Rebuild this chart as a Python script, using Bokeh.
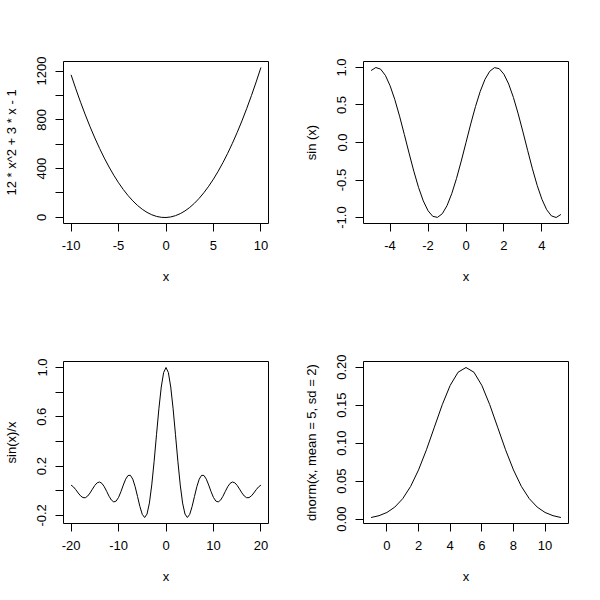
from bokeh.plotting import figure
from bokeh.layouts import gridplot
from bokeh.models import Range1d, FixedTicker
from bokeh.embed import file_html
from bokeh.resources import INLINE

# ---- data ----
para_x = [-10, -9.5, -9, -8.5, -8, -7.5, -7, -6.5, -6, -5.5, -5, -4.5, -4, -3.5, -3, -2.5, -2, -1.5, -1, -0.5,
          0, 0.5, 1, 1.5, 2, 2.5, 3, 3.5, 4, 4.5, 5, 5.5, 6, 6.5, 7, 7.5, 8, 8.5, 9, 9.5, 10]
para_y = [1169, 1053.5, 944, 840.5, 743, 651.5, 566, 486.5, 413, 345.5, 284, 228.5, 179, 135.5, 98, 66.5, 41, 21.5, 8, 0.5,
          -1, 3.5, 14, 30.5, 53, 81.5, 116, 156.5, 203, 255.5, 314, 378.5, 449, 525.5, 608, 696.5, 791, 891.5, 998, 1110.5, 1229]

sin_x = [-5, -4.75, -4.5, -4.25, -4, -3.75, -3.5, -3.25, -3, -2.75, -2.5, -2.25, -2, -1.75, -1.5, -1.25, -1, -0.75, -0.5, -0.25,
         0, 0.25, 0.5, 0.75, 1, 1.25, 1.5, 1.75, 2, 2.25, 2.5, 2.75, 3, 3.25, 3.5, 3.75, 4, 4.25, 4.5, 4.75, 5]
sin_y = [0.9589, 0.9993, 0.9775, 0.8950, 0.7568, 0.5716, 0.3508, 0.1082, -0.1411, -0.3817, -0.5985, -0.7781, -0.9093,
         -0.9840, -0.9975, -0.9490, -0.8415, -0.6816, -0.4794, -0.2474, 0.0, 0.2474, 0.4794, 0.6816, 0.8415, 0.9490,
         0.9975, 0.9840, 0.9093, 0.7781, 0.5985, 0.3817, 0.1411, -0.1082, -0.3508, -0.5716, -0.7568, -0.8950, -0.9775,
         -0.9993, -0.9589]

sinc_x = [-20, -19.5, -19, -18.5, -18, -17.5, -17, -16.5, -16, -15.5, -15, -14.5, -14, -13.5, -13, -12.5, -12, -11.5,
          -11, -10.5, -10, -9.5, -9, -8.5, -8, -7.5, -7, -6.5, -6, -5.5, -5, -4.5, -4, -3.5, -3, -2.5, -2, -1.5, -1, -0.5,
          0, 0.5, 1, 1.5, 2, 2.5, 3, 3.5, 4, 4.5, 5, 5.5, 6, 6.5, 7, 7.5, 8, 8.5, 9, 9.5, 10, 10.5, 11, 11.5, 12, 12.5,
          13, 13.5, 14, 14.5, 15, 15.5, 16, 16.5, 17, 17.5, 18, 18.5, 19, 19.5, 20]
sinc_y = [0.0456, 0.0311, 0.0079, -0.0185, -0.0417, -0.0557, -0.0566, -0.0431, -0.0180, 0.0133, 0.0434, 0.0645, 0.0708,
          0.0595, 0.0323, -0.0053, -0.0447, -0.0761, -0.0909, -0.0838, -0.0544, -0.0079, 0.0458, 0.0939, 0.1237, 0.1251,
          0.0939, 0.0331, -0.0466, -0.1283, -0.1918, -0.2172, -0.1892, -0.1002, 0.0470, 0.2394, 0.4546, 0.6650, 0.8415,
          0.9589, 1.0,
          0.9589, 0.8415, 0.6650, 0.4546, 0.2394, 0.0470, -0.1002, -0.1892, -0.2172, -0.1918, -0.1283, -0.0466, 0.0331,
          0.0939, 0.1251, 0.1237, 0.0939, 0.0458, -0.0079, -0.0544, -0.0838, -0.0909, -0.0761, -0.0447, -0.0053, 0.0323,
          0.0595, 0.0708, 0.0645, 0.0434, 0.0133, -0.0180, -0.0431, -0.0566, -0.0557, -0.0417, -0.0185, 0.0079, 0.0311,
          0.0456]

dnorm_x = [-1, -0.5, 0, 0.5, 1, 1.5, 2, 2.5, 3, 3.5, 4, 4.5, 5, 5.5, 6, 6.5, 7, 7.5, 8, 8.5, 9, 9.5, 10, 10.5, 11]
dnorm_y = [0.0022, 0.0046, 0.0088, 0.0159, 0.0270, 0.0431, 0.0648, 0.0913, 0.1210, 0.1506, 0.1760, 0.1933, 0.1995,
           0.1933, 0.1760, 0.1506, 0.1210, 0.0913, 0.0648, 0.0431, 0.0270, 0.0159, 0.0088, 0.0046, 0.0022]

# tick values and labels ("" = tick without label, as in the picture)
para_xticks = [-10, -5, 0, 5, 10]
para_xlabels = ["-10", "-5", "0", "5", "10"]
para_yticks = [0, 200, 400, 600, 800, 1000, 1200]
para_ylabels = ["0", "", "400", "", "800", "", "1200"]

sin_xticks = [-4, -2, 0, 2, 4]
sin_xlabels = ["-4", "-2", "0", "2", "4"]
sin_yticks = [-1.0, -0.5, 0.0, 0.5, 1.0]
sin_ylabels = ["-1.0", "-0.5", "0.0", "0.5", "1.0"]

sinc_xticks = [-20, -10, 0, 10, 20]
sinc_xlabels = ["-20", "-10", "0", "10", "20"]
sinc_yticks = [-0.2, 0.0, 0.2, 0.4, 0.6, 0.8, 1.0]
sinc_ylabels = ["-0.2", "", "0.2", "", "0.6", "", "1.0"]

dnorm_xticks = [0, 2, 4, 6, 8, 10]
dnorm_xlabels = ["0", "2", "4", "6", "8", "10"]
dnorm_yticks = [0.0, 0.05, 0.10, 0.15, 0.20]
dnorm_ylabels = ["0.00", "0.05", "0.10", "0.15", "0.20"]

FONT = "Liberation Sans"
FS = "13px"


def padded(vals):
    lo, hi = min(vals), max(vals)
    d = (hi - lo) * 0.04
    return Range1d(lo - d, hi + d)


def panel(xs, ys, xt, xl, yt, yl, ylab):
    p = figure(width=300, height=300, output_backend="svg", toolbar_location=None,
               x_range=padded(xs), y_range=padded(ys),
               min_border_left=62, min_border_right=32, min_border_top=61, min_border_bottom=77)
    p.line(xs, ys, line_color="black", line_width=1)
    p.xgrid.visible = False
    p.ygrid.visible = False
    p.outline_line_color = "black"
    p.outline_line_width = 1
    p.background_fill_color = "white"
    p.border_fill_color = "white"
    p.xaxis.ticker = FixedTicker(ticks=xt)
    p.yaxis.ticker = FixedTicker(ticks=yt)
    p.xaxis.major_label_overrides = {v: s for v, s in zip(xt, xl)}
    p.yaxis.major_label_overrides = {v: s for v, s in zip(yt, yl)}
    p.xaxis.axis_label = "x"
    p.yaxis.axis_label = ylab
    p.yaxis.major_label_orientation = "vertical"
    for ax in (p.xaxis[0], p.yaxis[0]):
        ax.axis_line_color = None
        ax.major_tick_in = 0
        ax.major_tick_out = 8
        ax.major_tick_line_color = "black"
        ax.minor_tick_line_color = None
        ax.major_label_text_font = FONT
        ax.major_label_text_font_size = FS
        ax.major_label_text_color = "black"
        ax.axis_label_text_font = FONT
        ax.axis_label_text_font_size = FS
        ax.axis_label_text_font_style = "normal"
        ax.axis_label_text_color = "black"
    p.xaxis.major_label_standoff = 9
    p.xaxis.axis_label_standoff = 16
    p.yaxis.major_label_standoff = 9
    p.yaxis.axis_label_standoff = 16
    return p


p1 = panel(para_x, para_y, para_xticks, para_xlabels, para_yticks, para_ylabels, "12 * x^2 + 3 * x - 1")
p2 = panel(sin_x, sin_y, sin_xticks, sin_xlabels, sin_yticks, sin_ylabels, "sin (x)")
p3 = panel(sinc_x, sinc_y, sinc_xticks, sinc_xlabels, sinc_yticks, sinc_ylabels, "sin(x)/x")
p4 = panel(dnorm_x, dnorm_y, dnorm_xticks, dnorm_xlabels, dnorm_yticks, dnorm_ylabels, "dnorm(x, mean = 5, sd = 2)")

grid = gridplot([[p1, p2], [p3, p4]], toolbar_location=None)

open("out.html", "w").write(file_html(grid, INLINE))
